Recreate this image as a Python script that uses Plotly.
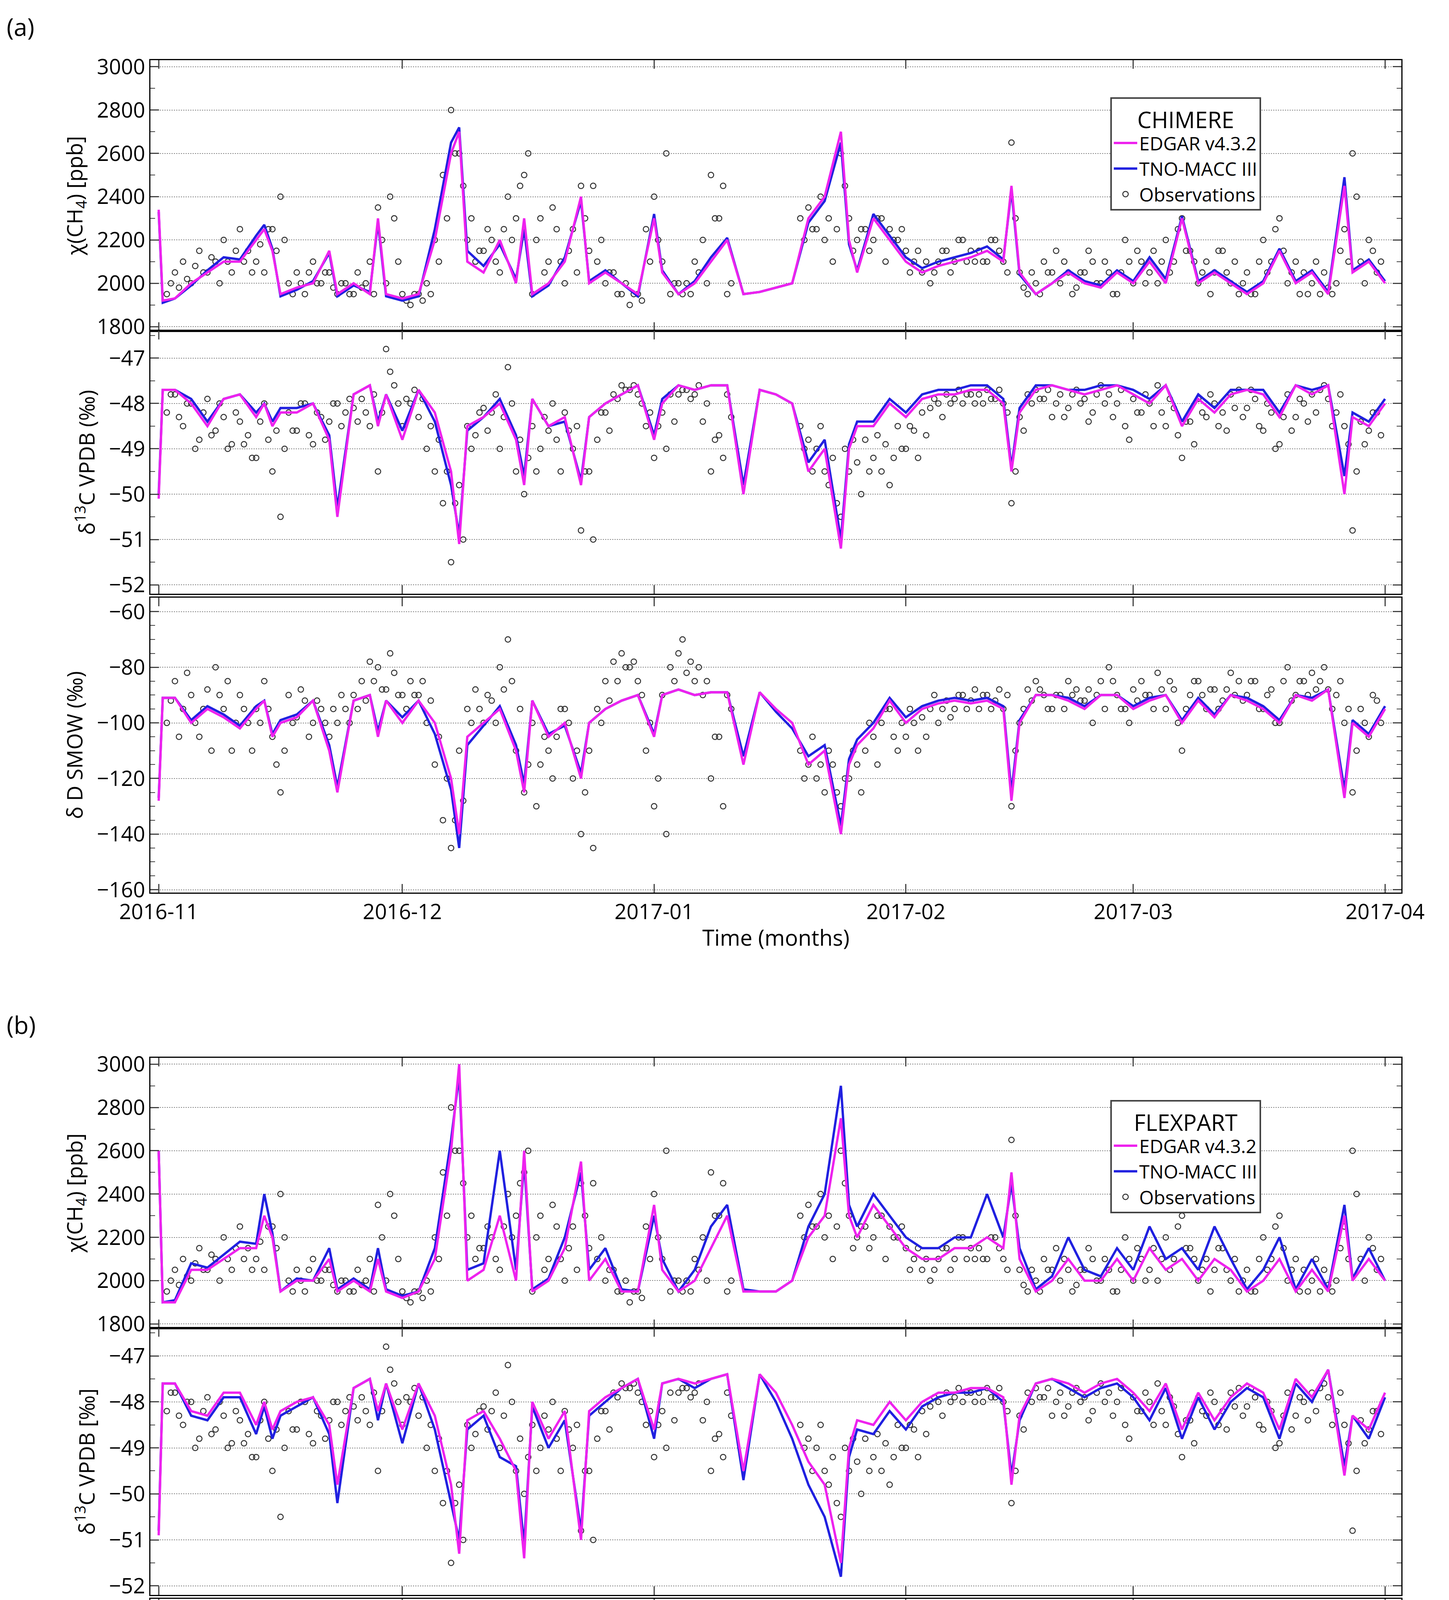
import pandas as pd
import plotly.graph_objects as go

# model time grid: days after 2016-11-01
model_day = [0, 0.5, 2, 4, 6, 8, 10, 12, 13, 14,
             15, 17, 19, 21, 22, 24, 26, 27, 28, 30,
             32, 34, 36, 37, 38, 40, 42, 44, 45, 46,
             48, 50, 52, 53, 55, 57, 59, 61, 62, 64,
             66, 68, 70, 72, 74, 76, 78, 80, 82, 84,
             85, 86, 88, 90, 92, 94, 96, 98, 100, 102,
             104, 105, 106, 108, 110, 112, 114, 116, 118, 120,
             122, 124, 126, 128, 130, 132, 134, 136, 138, 140,
             142, 144, 146, 147, 149, 151]

# ---- CHIMERE (a)
ch4_a_edgar = [2340, 1920, 1930, 2000, 2050, 2100, 2100, 2200, 2250, 2150,
               1950, 1980, 2000, 2150, 1950, 2000, 1950, 2300, 1950, 1930,
               1950, 2200, 2600, 2700, 2100, 2050, 2200, 2000, 2300, 1950,
               2000, 2100, 2400, 2000, 2050, 2000, 1950, 2300, 2050, 1950,
               2000, 2100, 2200, 1950, 1960, 1980, 2000, 2300, 2400, 2700,
               2200, 2050, 2300, 2200, 2100, 2050, 2080, 2100, 2120, 2150,
               2100, 2450, 2050, 1950, 2000, 2050, 2000, 1980, 2050, 2000,
               2100, 2000, 2300, 2000, 2050, 2000, 1950, 2000, 2150, 2000,
               2050, 1950, 2450, 2050, 2100, 2000]
ch4_a_tno = [2330, 1910, 1930, 1990, 2060, 2120, 2110, 2220, 2270, 2160,
             1940, 1970, 2010, 2140, 1940, 1990, 1960, 2280, 1940, 1920,
             1940, 2250, 2650, 2720, 2150, 2080, 2180, 2020, 2250, 1940,
             1990, 2120, 2380, 2010, 2060, 2000, 1940, 2320, 2060, 1950,
             2010, 2120, 2210, 1950, 1960, 1980, 2000, 2280, 2380, 2650,
             2180, 2060, 2320, 2220, 2120, 2070, 2100, 2120, 2140, 2170,
             2110, 2430, 2040, 1950, 2000, 2060, 2010, 1990, 2060, 2010,
             2120, 2020, 2310, 2010, 2060, 2010, 1960, 2010, 2160, 2010,
             2060, 1960, 2490, 2060, 2110, 2010]
d13c_a_edgar = [-50.1, -47.7, -47.7, -48.0, -48.5, -47.9, -47.8, -48.3, -48.0, -48.5,
                -48.2, -48.2, -48.0, -48.8, -50.5, -47.8, -47.6, -48.5, -47.8, -48.8,
                -47.7, -48.2, -49.5, -51.1, -48.5, -48.3, -48.0, -48.8, -49.8, -47.9,
                -48.5, -48.3, -49.8, -48.3, -48.0, -47.8, -47.6, -48.8, -48.0, -47.6,
                -47.7, -47.6, -47.6, -50.0, -47.7, -47.8, -48.0, -49.5, -49.0, -51.2,
                -49.0, -48.5, -48.5, -48.0, -48.3, -47.9, -47.8, -47.8, -47.7, -47.7,
                -48.0, -49.5, -48.2, -47.7, -47.6, -47.7, -47.8, -47.7, -47.6, -47.8,
                -48.0, -47.6, -48.5, -47.9, -48.2, -47.8, -47.7, -47.8, -48.3, -47.6,
                -47.8, -47.6, -50.0, -48.3, -48.5, -48.0]
d13c_a_tno = [-50.0, -47.7, -47.7, -47.9, -48.4, -47.9, -47.8, -48.2, -48.0, -48.4,
              -48.1, -48.1, -48.0, -48.7, -50.3, -47.8, -47.6, -48.4, -47.8, -48.6,
              -47.7, -48.4, -49.8, -50.9, -48.6, -48.3, -47.9, -48.7, -49.6, -47.9,
              -48.5, -48.4, -49.7, -48.3, -48.0, -47.8, -47.6, -48.7, -47.9, -47.6,
              -47.7, -47.6, -47.6, -49.8, -47.7, -47.8, -48.0, -49.3, -48.8, -51.0,
              -48.9, -48.4, -48.4, -47.9, -48.2, -47.8, -47.7, -47.7, -47.6, -47.6,
              -47.9, -49.4, -48.1, -47.6, -47.6, -47.7, -47.7, -47.6, -47.6, -47.7,
              -47.9, -47.6, -48.4, -47.8, -48.1, -47.7, -47.7, -47.7, -48.2, -47.6,
              -47.7, -47.6, -49.6, -48.2, -48.4, -47.9]
dd_a_edgar = [-128, -91, -91, -100, -95, -98, -102, -95, -92, -105,
              -100, -98, -92, -110, -125, -92, -90, -105, -92, -100,
              -92, -100, -120, -140, -105, -100, -95, -110, -125, -92,
              -105, -100, -120, -100, -95, -92, -90, -105, -90, -88,
              -90, -89, -89, -115, -89, -95, -100, -115, -110, -140,
              -115, -108, -102, -92, -100, -95, -93, -92, -93, -92,
              -95, -128, -100, -90, -90, -92, -95, -90, -90, -95,
              -92, -90, -100, -92, -98, -90, -92, -95, -100, -90,
              -92, -88, -127, -100, -105, -95]
dd_a_tno = [-127, -91, -91, -99, -94, -97, -101, -94, -92, -104,
            -99, -97, -92, -108, -123, -92, -90, -103, -92, -98,
            -92, -104, -124, -145, -108, -101, -94, -108, -122, -92,
            -104, -101, -118, -100, -95, -92, -90, -104, -90, -88,
            -90, -89, -89, -112, -89, -96, -102, -112, -108, -137,
            -113, -106, -100, -91, -98, -94, -92, -91, -92, -91,
            -94, -125, -99, -90, -90, -91, -94, -90, -90, -94,
            -91, -90, -99, -91, -97, -90, -91, -94, -99, -90,
            -91, -88, -124, -99, -104, -94]

# ---- FLEXPART (b)
ch4_b_edgar = [2600, 1900, 1900, 2050, 2050, 2100, 2150, 2150, 2300, 2200,
               1950, 2000, 2000, 2100, 1950, 2000, 1950, 2100, 1950, 1920,
               1950, 2100, 2600, 3000, 2000, 2050, 2300, 2000, 2600, 1950,
               2000, 2150, 2550, 2000, 2100, 1950, 1950, 2350, 2050, 1950,
               2000, 2150, 2300, 1950, 1950, 1950, 2000, 2200, 2300, 2750,
               2300, 2200, 2350, 2250, 2150, 2100, 2100, 2150, 2150, 2200,
               2150, 2500, 2100, 1950, 2000, 2100, 2000, 2000, 2100, 2000,
               2150, 2050, 2100, 2000, 2100, 2050, 1950, 2000, 2100, 1950,
               2050, 1950, 2300, 2000, 2100, 2000]
ch4_b_tno = [2600, 1900, 1910, 2080, 2060, 2120, 2180, 2170, 2400, 2220,
             1950, 2010, 2000, 2150, 1960, 2010, 1960, 2150, 1960, 1930,
             1950, 2150, 2650, 2950, 2050, 2080, 2600, 2050, 2550, 1960,
             2010, 2200, 2500, 2050, 2150, 1960, 1950, 2300, 2100, 1950,
             2050, 2250, 2350, 1960, 1950, 1950, 2000, 2250, 2400, 2900,
             2350, 2250, 2400, 2300, 2200, 2150, 2150, 2200, 2200, 2400,
             2200, 2450, 2150, 1960, 2020, 2200, 2050, 2020, 2150, 2050,
             2250, 2100, 2150, 2050, 2250, 2100, 1960, 2050, 2200, 1960,
             2100, 1960, 2350, 2010, 2150, 2000]
d13c_b_edgar = [-50.9, -47.6, -47.6, -48.2, -48.3, -47.8, -47.8, -48.5, -48.0, -48.6,
                -48.2, -48.0, -47.9, -48.5, -49.8, -47.7, -47.5, -48.2, -47.6, -48.6,
                -47.6, -48.3, -49.8, -51.3, -48.4, -48.2, -48.8, -49.5, -51.4, -48.0,
                -48.8, -48.2, -51.0, -48.2, -47.9, -47.7, -47.5, -48.6, -47.6, -47.5,
                -47.6, -47.5, -47.4, -49.5, -47.4, -47.8, -48.5, -49.3, -49.8, -51.5,
                -49.0, -48.4, -48.5, -48.0, -48.4, -48.0, -47.8, -47.8, -47.7, -47.7,
                -47.9, -49.8, -48.3, -47.6, -47.5, -47.6, -47.8, -47.6, -47.5, -47.8,
                -48.2, -47.6, -48.6, -47.8, -48.4, -47.9, -47.6, -47.8, -48.6, -47.5,
                -47.9, -47.3, -49.6, -48.3, -48.6, -47.8]
d13c_b_tno = [-50.8, -47.6, -47.6, -48.3, -48.4, -47.9, -47.9, -48.7, -48.1, -48.8,
              -48.3, -48.1, -47.9, -48.7, -50.2, -47.7, -47.5, -48.4, -47.6, -48.9,
              -47.6, -48.6, -50.2, -51.0, -48.6, -48.3, -49.2, -49.4, -51.1, -48.1,
              -49.0, -48.4, -50.8, -48.3, -48.0, -47.7, -47.5, -48.8, -47.6, -47.5,
              -47.7, -47.5, -47.4, -49.7, -47.4, -48.0, -48.8, -49.8, -50.5, -51.8,
              -49.2, -48.6, -48.7, -48.2, -48.6, -48.1, -47.9, -47.8, -47.8, -47.7,
              -48.0, -49.6, -48.4, -47.6, -47.5, -47.7, -47.9, -47.7, -47.6, -47.9,
              -48.4, -47.7, -48.8, -47.9, -48.6, -48.0, -47.7, -47.9, -48.8, -47.6,
              -48.0, -47.3, -49.4, -48.3, -48.8, -47.9]
dd_b_edgar = [-142, -90, -90, -102, -94, -96, -103, -97, -92, -106,
              -100, -97, -91, -106, -118, -90, -88, -100, -90, -98,
              -90, -100, -125, -143, -105, -100, -110, -120, -140, -95,
              -110, -100, -135, -100, -96, -90, -88, -105, -88, -86,
              -89, -87, -86, -110, -85, -100, -110, -120, -125, -142,
              -118, -110, -105, -95, -102, -97, -95, -93, -94, -93,
              -97, -128, -102, -90, -89, -92, -96, -90, -89, -96,
              -95, -90, -102, -91, -100, -92, -90, -94, -104, -88,
              -93, -86, -115, -98, -104, -92]
dd_b_tno = [-141, -90, -90, -104, -96, -98, -106, -99, -93, -110,
            -102, -98, -92, -109, -122, -90, -88, -103, -90, -100,
            -90, -104, -130, -140, -108, -102, -113, -118, -137, -96,
            -112, -102, -132, -101, -97, -90, -88, -107, -88, -86,
            -89, -87, -86, -113, -85, -102, -114, -124, -130, -146,
            -120, -112, -107, -97, -104, -98, -96, -94, -95, -94,
            -98, -126, -104, -91, -89, -93, -98, -91, -90, -98,
            -97, -91, -104, -92, -102, -93, -91, -95, -106, -89,
            -94, -86, -112, -99, -106, -93]

# ---- observations (same in both panels), two samples per day
obs_day = list(range(1, 71)) + list(range(79, 151))
obs_ch4 = [1950, 2050, 2100, 2000, 2150, 2050, 2100, 2200, 2050, 2250,
           2150, 2100, 2050, 2250, 2400, 2000, 2050, 1950, 2100, 2000,
           2050, 1950, 2000, 1950, 1980, 2100, 2350, 2000, 2300, 1950,
           1900, 1950, 2000, 2200, 2500, 2800, 2600, 2200, 2100, 2150,
           2200, 2050, 2400, 2300, 2500, 1950, 2300, 2100, 2250, 2000,
           2250, 2450, 2150, 2100, 2000, 2050, 1950, 1900, 1950, 2250,
           2400, 2100, 1950, 2000, 2000, 2100, 2200, 2500, 2300, 1950,
           2300, 2350, 2250, 2200, 2100, 2600, 2300, 2200, 2250, 2200, 2300, 2250,
           2200, 2150, 2100, 2050, 2000, 2100, 2150, 2100, 2200, 2150,
           2150, 2100, 2200, 2100, 2650, 2050, 1950, 2000, 2100, 2050,
           2000, 2050, 1980, 2050, 2100, 2000, 2050, 1950, 2200, 2000,
           2100, 2050, 2000, 2200, 2100, 2300, 2150, 2000, 2100, 2050,
           2150, 2000, 1950, 2050, 1950, 2200, 2100, 2300, 2000, 2100,
           2050, 2000, 1950, 1980, 2000, 2250, 2600, 2100, 2200, 2050]
obs_ch4_2 = [2000, 1980, 2020, 2080, 2050, 2120, 2000, 2100, 2150, 2100,
             2050, 2180, 2250, 2150, 2200, 1950, 2000, 2050, 2000, 2050,
             1980, 2000, 1950, 2050, 2000, 1950, 2200, 2400, 2100, 1920,
             1950, 1920, 1950, 2100, 2300, 2600, 2450, 2300, 2150, 2250,
             2100, 2250, 2200, 2450, 2600, 2200, 2050, 2350, 2100, 2150,
             2050, 2300, 2450, 2200, 2050, 1950, 2000, 1950, 1920, 2100,
             2200, 2600, 2000, 1950, 1950, 2050, 2000, 2300, 2450, 2000,
             2200, 2250, 2400, 2300, 2250, 2450, 2150, 2250, 2150, 2300, 2100, 2200,
             2250, 2050, 2150, 2100, 2050, 2150, 2050, 2200, 2100, 2100,
             2100, 2200, 2150, 2050, 2300, 1980, 2050, 1950, 2050, 2150,
             2100, 1950, 2050, 2150, 2000, 2100, 1950, 2050, 2100, 2150,
             2000, 2150, 2100, 2050, 2250, 2150, 2100, 2050, 1950, 2150,
             2050, 2100, 2000, 1950, 2100, 2050, 2250, 2150, 2050, 1950,
             1950, 2100, 2050, 1950, 2150, 2100, 2400, 2000, 2150, 2100]
obs_d13c = [-48.2, -47.8, -48.5, -48.0, -48.8, -47.9, -48.6, -48.3, -48.9, -48.4,
            -48.7, -49.2, -48.0, -49.5, -50.5, -48.2, -48.6, -48.0, -48.9, -48.3,
            -48.4, -48.0, -48.2, -48.1, -47.9, -48.5, -49.5, -46.8, -47.6, -48.5,
            -48.0, -48.3, -49.0, -49.5, -50.2, -51.5, -49.8, -48.5, -48.7, -48.1,
            -48.2, -49.0, -47.2, -49.5, -50.0, -48.5, -49.0, -48.6, -48.8, -48.2,
            -49.0, -50.8, -49.5, -48.8, -48.2, -47.8, -47.6, -47.7, -47.8, -48.5,
            -49.2, -48.2, -47.8, -47.8, -47.7, -47.8, -48.4, -49.5, -48.7, -47.8,
            -48.5, -48.8, -49.0, -49.5, -49.2, -50.5, -49.5, -49.3, -48.8, -49.2, -49.5, -49.8,
            -48.5, -49.0, -48.6, -48.2, -48.1, -48.0, -47.8, -47.9, -48.0, -47.8,
            -47.8, -47.7, -47.9, -48.0, -50.2, -48.3, -47.8, -47.7, -47.9, -48.3,
            -47.8, -48.1, -47.7, -47.9, -48.2, -47.6, -47.8, -48.0, -48.5, -47.9,
            -48.2, -48.0, -47.6, -48.5, -48.1, -49.2, -48.4, -47.9, -48.3, -48.0,
            -48.2, -47.8, -47.7, -48.1, -47.9, -48.6, -48.2, -48.9, -47.8, -48.3,
            -48.0, -47.8, -47.7, -47.9, -48.2, -48.5, -50.8, -48.4, -48.6, -48.2]
obs_d13c_2 = [-47.8, -48.3, -48.0, -49.0, -48.2, -48.7, -48.0, -49.0, -48.2, -48.9,
              -49.2, -48.4, -48.8, -48.6, -49.0, -48.6, -48.0, -48.7, -48.2, -48.8,
              -48.0, -48.5, -47.9, -48.4, -48.2, -47.8, -48.2, -47.3, -48.0, -47.9,
              -47.7, -47.9, -48.5, -48.8, -49.5, -50.2, -51.0, -49.0, -48.2, -48.6,
              -47.8, -48.3, -48.0, -48.8, -49.2, -49.5, -48.3, -48.0, -49.5, -48.6,
              -48.5, -49.5, -51.0, -48.2, -48.6, -47.9, -47.7, -47.6, -48.0, -48.2,
              -48.5, -49.0, -48.4, -47.7, -47.9, -47.6, -48.0, -48.8, -49.2, -48.3,
              -49.0, -49.5, -48.5, -49.8, -50.2, -49.0, -48.8, -50.0, -49.5, -48.7, -48.9, -49.2,
              -49.0, -48.5, -49.2, -48.7, -47.9, -48.3, -48.0, -47.7, -47.8, -48.0,
              -48.0, -47.9, -47.7, -48.2, -49.5, -48.6, -48.0, -47.9, -47.7, -48.0,
              -48.3, -47.8, -48.0, -48.4, -47.8, -48.0, -48.3, -47.7, -48.8, -48.2,
              -47.8, -48.5, -48.2, -47.9, -48.7, -48.4, -48.9, -48.2, -47.8, -48.5,
              -48.6, -48.1, -48.3, -47.7, -48.5, -48.0, -49.0, -48.3, -48.6, -47.9,
              -48.4, -48.2, -47.6, -48.5, -47.8, -48.9, -49.5, -48.9, -48.2, -48.7]
obs_dd = [-100, -85, -95, -90, -105, -88, -80, -95, -110, -90,
          -100, -95, -85, -105, -125, -90, -98, -92, -100, -95,
          -105, -100, -95, -90, -85, -78, -80, -88, -82, -90,
          -85, -90, -100, -115, -135, -145, -110, -95, -88, -100,
          -92, -80, -70, -110, -125, -100, -115, -110, -105, -95,
          -120, -140, -110, -95, -85, -78, -75, -80, -85, -110,
          -130, -90, -80, -75, -82, -85, -90, -120, -105, -90,
          -110, -115, -120, -125, -115, -130, -120, -115, -110, -105, -100, -95,
          -110, -105, -100, -98, -95, -100, -92, -95, -90, -92,
          -95, -90, -92, -95, -130, -100, -88, -85, -90, -95,
          -90, -85, -88, -92, -100, -85, -80, -90, -95, -88,
          -85, -90, -82, -95, -88, -110, -90, -85, -95, -88,
          -92, -82, -85, -90, -85, -95, -88, -100, -80, -90,
          -85, -82, -85, -88, -90, -100, -125, -95, -105, -92]
obs_dd_2 = [-92, -105, -82, -100, -95, -110, -90, -85, -100, -95,
            -110, -100, -95, -115, -110, -100, -88, -105, -92, -100,
            -95, -90, -100, -95, -92, -85, -88, -75, -90, -95,
            -90, -85, -92, -105, -120, -135, -128, -100, -95, -90,
            -100, -88, -85, -95, -115, -130, -105, -120, -95, -100,
            -110, -125, -145, -100, -92, -85, -80, -78, -90, -100,
            -120, -140, -85, -70, -78, -80, -85, -105, -130, -95,
            -120, -105, -115, -110, -125, -120, -110, -125, -100, -115, -95, -105,
            -100, -95, -110, -105, -90, -95, -98, -90, -95, -88,
            -90, -95, -88, -90, -110, -95, -92, -88, -95, -90,
            -95, -90, -92, -88, -90, -95, -85, -95, -100, -92,
            -90, -95, -88, -85, -100, -95, -85, -90, -88, -95,
            -88, -90, -92, -85, -95, -90, -100, -85, -92, -85,
            -90, -88, -80, -95, -85, -95, -110, -100, -90, -100]

start = pd.Timestamp("2016-11-01")
t_model = start + pd.to_timedelta(model_day, unit="D")
t_obs = start + pd.to_timedelta(obs_day, unit="D")
t_obs_2 = start + pd.to_timedelta([d + 0.5 for d in obs_day], unit="D")

FONT = "Open Sans"
H = 1568.0
def dom(top, bot):
    return [1 - bot / H, 1 - top / H]

# (top, bottom) in reference-display pixels for each of 6 panels
panels = [
    (45, 258, [1780, 3030], [1800, 2000, 2200, 2400, 2600, 2800, 3000], "χ(CH<sub>4</sub>) [ppb]"),
    (258, 465, [-52.2, -46.4], [-52, -51, -50, -49, -48, -47], "δ<sup>13</sup>C VPDB (‰)"),
    (468, 700, [-161, -55], [-160, -140, -120, -100, -80, -60], "δ D SMOW (‰)"),
    (830, 1043, [1780, 3030], [1800, 2000, 2200, 2400, 2600, 2800, 3000], "χ(CH<sub>4</sub>) [ppb]"),
    (1043, 1253, [-52.2, -46.4], [-52, -51, -50, -49, -48, -47], "δ<sup>13</sup>C VPDB [‰]"),
    (1256, 1497, [-161, -55], [-160, -140, -120, -100, -80, -60], "δ D SMOW [‰]"),
]
series = [
    (ch4_a_edgar, ch4_a_tno, obs_ch4, obs_ch4_2),
    (d13c_a_edgar, d13c_a_tno, obs_d13c, obs_d13c_2),
    (dd_a_edgar, dd_a_tno, obs_dd, obs_dd_2),
    (ch4_b_edgar, ch4_b_tno, obs_ch4, obs_ch4_2),
    (d13c_b_edgar, d13c_b_tno, obs_d13c, obs_d13c_2),
    (dd_b_edgar, dd_b_tno, obs_dd, obs_dd_2),
]

obs_marker = dict(symbol="circle-open", size=14, color="#333333", line=dict(width=2.5))

fig = go.Figure()
layout = {}
for i, ((top, bot, yr, yt, ytitle), (ed, tn, ob, ob2)) in enumerate(zip(panels, series)):
    n = i + 1
    xa, ya = "x%d" % n, "y%d" % n
    leg = "legend" if i < 3 else "legend2"
    show = i in (0, 3)
    fig.add_trace(go.Scatter(x=t_obs, y=ob, mode="markers", name="Observations",
                             marker=obs_marker, xaxis=xa, yaxis=ya,
                             showlegend=show, legend=leg, legendrank=3))
    fig.add_trace(go.Scatter(x=t_obs_2, y=ob2, mode="markers", name="Observations",
                             marker=obs_marker, xaxis=xa, yaxis=ya, showlegend=False))
    fig.add_trace(go.Scatter(x=t_model, y=tn, mode="lines", name="TNO-MACC III",
                             line=dict(color="#2020e0", width=6), xaxis=xa, yaxis=ya,
                             showlegend=show, legend=leg, legendrank=2))
    fig.add_trace(go.Scatter(x=t_model, y=ed, mode="lines", name="EDGAR v4.3.2",
                             line=dict(color="#ee22ee", width=6), xaxis=xa, yaxis=ya,
                             showlegend=show, legend=leg, legendrank=1))
    bottom = i in (2, 5)
    layout["xaxis%d" % n] = dict(
        domain=[116 / 1140, 1100 / 1140], anchor=ya, type="date", automargin=False,
        range=["2016-10-31", "2017-04-03"], dtick="M1", tickformat="%Y-%m",
        showticklabels=bottom, ticks="inside", ticklen=22, tickwidth=3,
        showline=True, linecolor="black", linewidth=3, mirror="ticks",
        showgrid=False, tickfont=dict(size=54, color="black"),
        title=dict(text="Time (months)", font=dict(size=56)) if bottom else None)
    layout["yaxis%d" % n] = dict(
        domain=dom(top, bot), anchor=xa, range=yr, tickvals=yt, automargin=False,
        ticks="inside", ticklen=22, tickwidth=3,
        minor=dict(ticks="inside", ticklen=12, tickwidth=2, showgrid=False),
        showline=True, linecolor="black", linewidth=3, mirror="ticks",
        showgrid=True, gridcolor="#888888", griddash="dot", gridwidth=2,
        zeroline=False, tickfont=dict(size=54, color="black"),
        title=dict(text=ytitle, font=dict(size=54), standoff=20))

legend_style = dict(bgcolor="white", bordercolor="#444444", borderwidth=4,
                    font=dict(size=48, family=FONT, color="black"),
                    xanchor="left", yanchor="top", tracegroupgap=0, itemwidth=60)
layout["legend"] = dict(legend_style, x=2834 / 3709, y=1 - 241 / 5100,
                        title=dict(text="CHIMERE", side="top center", font=dict(size=58)))
layout["legend2"] = dict(legend_style, x=2834 / 3709, y=1 - 2808 / 5100,
                         title=dict(text="FLEXPART", side="top center", font=dict(size=58)))

fig.update_layout(**layout)
fig.update_layout(
    width=3709, height=5100, margin=dict(l=0, r=0, t=0, b=0),
    paper_bgcolor="white", plot_bgcolor="white",
    font=dict(family=FONT, color="black"),
    annotations=[
        dict(text="(a)", x=0.002, y=1 - 60 / 5100, xref="paper", yref="paper",
             showarrow=False, xanchor="left", yanchor="middle", font=dict(size=62)),
        dict(text="(b)", x=0.002, y=1 - 2615 / 5100, xref="paper", yref="paper",
             showarrow=False, xanchor="left", yanchor="middle", font=dict(size=62)),
    ],
)
fig.write_html("out.html")
